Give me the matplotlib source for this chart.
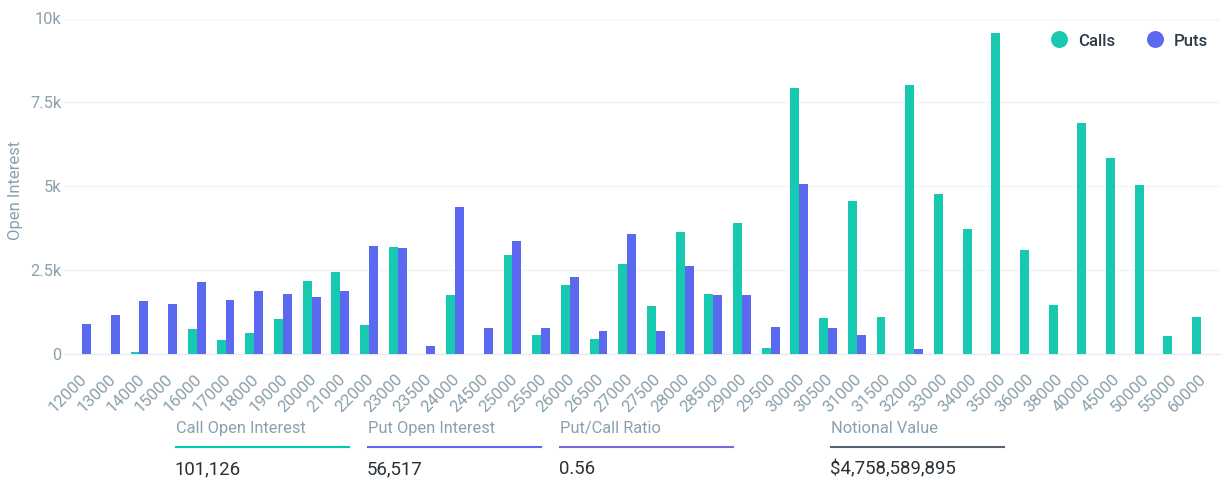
import numpy as np
import matplotlib
matplotlib.use("Agg")
import matplotlib.pyplot as plt
from matplotlib.lines import Line2D
from matplotlib.transforms import ScaledTranslation

W, H = 1223, 484

strikes = ["12000", "13000", "14000", "15000", "16000", "17000", "18000", "19000", "20000", "21000",
           "22000", "23000", "23500", "24000", "24500", "25000", "25500", "26000", "26500", "27000",
           "27500", "28000", "28500", "29000", "29500", "30000", "30500", "31000", "31500", "32000",
           "33000", "34000", "35000", "36000", "38000", "40000", "45000", "50000", "55000", "60000"]
calls = [0, 0, 50, 0, 720, 390, 600, 1020, 2170, 2420,
         850, 3190, 0, 1740, 0, 2940, 560, 2050, 440, 2680,
         1410, 3640, 1780, 3900, 170, 7930, 1060, 4550, 1100, 8010,
         4750, 3730, 9570, 3100, 1450, 6870, 5840, 5020, 510, 1100]
puts = [890, 1150, 1570, 1490, 2130, 1610, 1870, 1790, 1700, 1870,
        3220, 3150, 220, 4370, 770, 3360, 760, 2280, 680, 3560,
        680, 2600, 1740, 1740, 800, 5060, 770, 550, 0, 130,
        0, 0, 0, 0, 0, 0, 0, 0, 0, 0]
ytick_vals = [0, 2500, 5000, 7500, 10000]
ytick_labels = ["0", "2.5k", "5k", "7.5k", "10k"]
summary_titles = ["Call Open Interest", "Put Open Interest", "Put/Call Ratio", "Notional Value"]
summary_values = ["101,126", "56,517", "0.56", "$4,758,589,895"]
summary_colors = ["#00c9b1", "#5b69ee", "#7a6ad8", "#56636e"]
summary_x = [176, 368, 560, 831]
summary_w = [173, 173, 173, 173]

GREEN = "#17c9b0"
BLUE = "#5b69f0"
GREY = "#8aa0ac"

plt.rcParams["font.family"] = ["Roboto", "DejaVu Sans"]

fig = plt.figure(figsize=(W / 100, H / 100), dpi=100)
# axes placed in pixels, y=0 sits at 353.5 and 10k at 18.5
ax = fig.add_axes([64 / W, 1 - 353.5 / H, (1220 - 64) / W, 335 / H])

x = np.arange(len(strikes))
bw = 0.31
ax.bar(x - bw / 2, calls, bw, color=GREEN, zorder=3)
ax.bar(x + bw / 2, puts, bw, color=BLUE, zorder=3)

ax.set_xlim(-0.63, 39.66)
ax.set_ylim(0, 10000)
ax.set_yticks(ytick_vals)
ax.set_yticklabels(ytick_labels, fontsize=11.8, color=GREY)
ax.set_xticks(x)
ax.set_xticklabels(strikes, rotation=45, ha="right", rotation_mode="anchor", fontsize=12, color=GREY)
ax.tick_params(axis="both", length=0)
ax.tick_params(axis="x", pad=13)
ax.tick_params(axis="y", pad=2)
# nudge strike labels left, they sit a bit off the tick in the original
shift = ScaledTranslation(-2 / 72, 0, fig.dpi_scale_trans)
for lab in ax.get_xticklabels():
    lab.set_transform(lab.get_transform() + shift)
ax.grid(axis="y", color="#f3f4f6", lw=1, zorder=0)
for s in ["top", "left", "right"]:
    ax.spines[s].set_visible(False)
ax.spines["bottom"].set_color("#e6e9f0")
ax.set_ylabel("Open Interest", fontsize=12, color=GREY)
ax.yaxis.set_label_coords((23 - 64) / (1220 - 64), 0.488)

# legend is positioned by hand to sit over the plot corner
def px(a, b):
    return a / W, 1 - b / H

fig.add_artist(Line2D(*zip(px(1059, 39)), marker="o", ms=12.2, color=GREEN, mew=0))
fig.add_artist(Line2D(*zip(px(1155, 39)), marker="o", ms=12.2, color=BLUE, mew=0))
fig.text(*px(1078, 41), "Calls", fontsize=12, fontweight="medium", color="#2c3a47", va="center")
fig.text(*px(1174, 41), "Puts", fontsize=12, fontweight="medium", color="#2c3a47", va="center")

for i in range(len(summary_titles)):
    fig.text(*px(summary_x[i], 433), summary_titles[i], fontsize=11.8, color=GREY, va="baseline")
    xs, ys = zip(px(summary_x[i], 447), px(summary_x[i] + summary_w[i], 447))
    fig.add_artist(Line2D(xs, ys, color=summary_colors[i], lw=1.5))
    fig.text(*px(summary_x[i] - 1, 474), summary_values[i], fontsize=13.4, color="#2a3238", va="baseline")

fig.savefig("out.png", dpi=100)
